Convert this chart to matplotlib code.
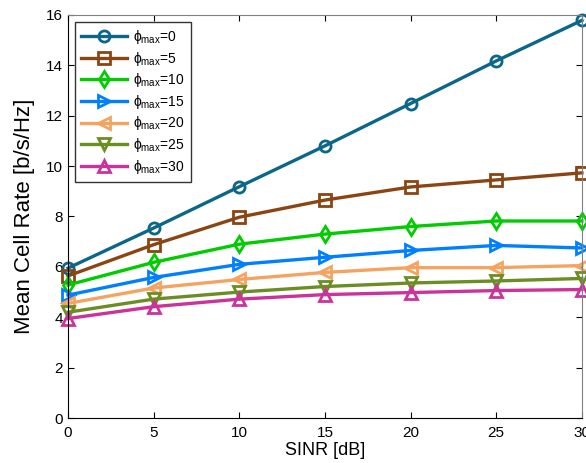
import matplotlib
matplotlib.use("Agg")
import matplotlib.pyplot as plt

plt.rcParams['font.family'] = ['Liberation Sans', 'DejaVu Sans']
plt.rcParams['mathtext.fontset'] = 'custom'
plt.rcParams['mathtext.rm'] = 'Liberation Sans'
plt.rcParams['mathtext.it'] = 'Liberation Sans'

sinr = [0, 5, 10, 15, 20, 25, 30]
phi0 = [5.95, 7.54, 9.18, 10.8, 12.48, 14.17, 15.78]
phi5 = [5.64, 6.88, 7.97, 8.65, 9.17, 9.45, 9.73]
phi10 = [5.28, 6.18, 6.9, 7.3, 7.6, 7.82, 7.82]
phi15 = [4.88, 5.58, 6.1, 6.38, 6.65, 6.85, 6.75]
phi20 = [4.55, 5.16, 5.5, 5.78, 5.97, 5.97, 6.05]
phi25 = [4.2, 4.72, 5.0, 5.22, 5.36, 5.44, 5.54]
phi30 = [3.95, 4.42, 4.72, 4.9, 4.98, 5.06, 5.1]
labels = [r'$\phi_{max}$=0', r'$\phi_{max}$=5', r'$\phi_{max}$=10', r'$\phi_{max}$=15',
          r'$\phi_{max}$=20', r'$\phi_{max}$=25', r'$\phi_{max}$=30']

series = [phi0, phi5, phi10, phi15, phi20, phi25, phi30]
colors = ['#0b6688', '#8b4513', '#00cc00', '#0080ff', '#f4a460', '#6b8e23', '#cc3399']
markers = ['o', 's', 'd', '>', '<', 'v', '^']

fig = plt.figure(figsize=(5.86, 4.63), dpi=100)
ax = fig.add_axes([0.116, 0.097, 0.877, 0.871])

for y, c, m, lab in zip(series, colors, markers, labels):
    ax.plot(sinr, y, color=c, marker=m, markersize=8, markerfacecolor='none',
            markeredgewidth=2, linewidth=2.4, label=lab, clip_on=False)

ax.set_xlim(0, 30)
ax.set_ylim(0, 16)
ax.set_xticks(sinr)
ax.set_yticks(range(0, 17, 2))
ax.tick_params(direction='in', length=4, labelsize=11, top=True, right=True)
ax.tick_params(axis='x', pad=6)
for s in ['top', 'right']:
    ax.spines[s].set_color('#808080')
ax.set_xlabel('SINR [dB]', fontsize=13, labelpad=1)
ax.set_ylabel('Mean Cell Rate [b/s/Hz]', fontsize=16, labelpad=8)

leg = ax.legend(loc='upper left', fontsize=10, frameon=True, fancybox=False,
                edgecolor='black', borderaxespad=0.5, handlelength=3.3,
                labelspacing=0.26, borderpad=0.45, handletextpad=0.45)
leg.get_frame().set_linewidth(1.0)

fig.savefig('out.png', dpi=100)
